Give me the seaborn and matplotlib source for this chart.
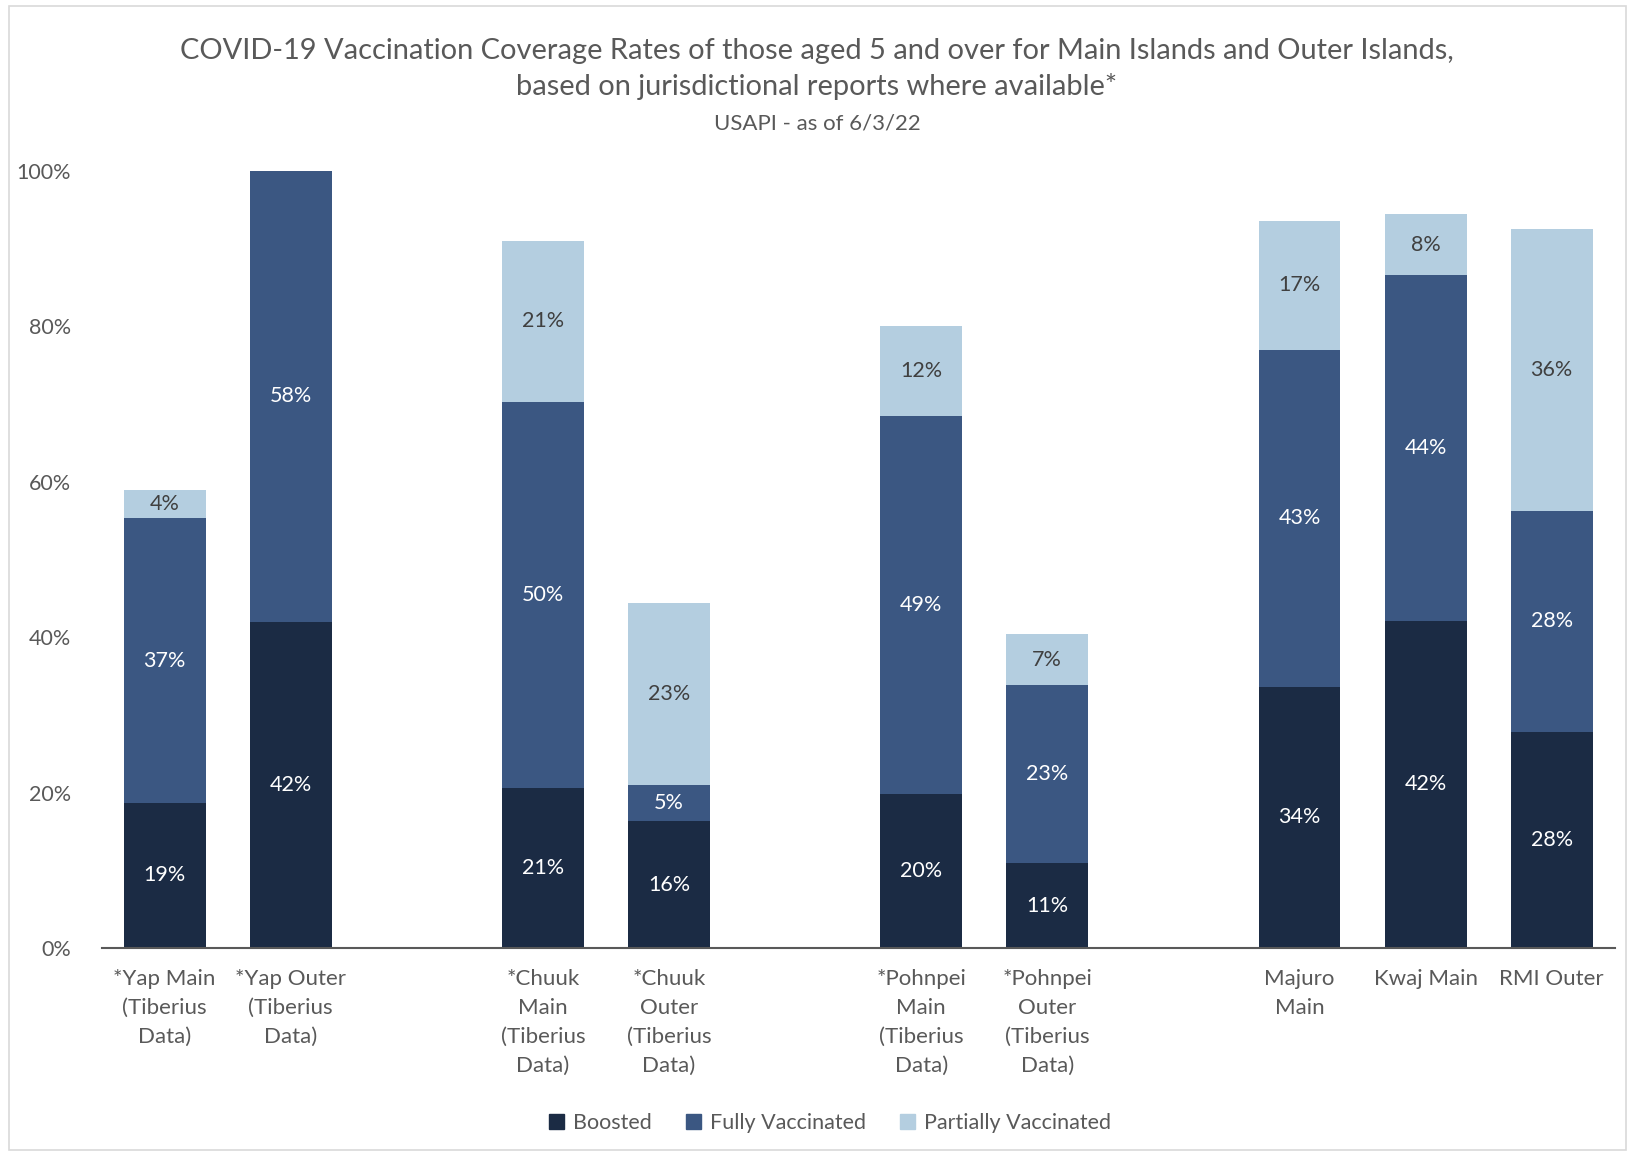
import matplotlib
matplotlib.use("Agg")
import matplotlib.pyplot as plt
import seaborn as sns
import pandas as pd
import numpy as np
from matplotlib.patches import Rectangle

# ---- data ----
categories = ["Yap Main", "Yap Outer", "gap1", "Chuuk Main", "Chuuk Outer", "gap2",
              "Pohnpei Main", "Pohnpei Outer", "gap3", "Majuro Main", "Kwaj Main", "RMI Outer"]
tick_labels = ["*Yap Main\n(Tiberius\nData)", "*Yap Outer\n(Tiberius\nData)", "",
               "*Chuuk\nMain\n(Tiberius\nData)", "*Chuuk\nOuter\n(Tiberius\nData)", "",
               "*Pohnpei\nMain\n(Tiberius\nData)", "*Pohnpei\nOuter\n(Tiberius\nData)", "",
               "Majuro\nMain", "Kwaj Main", "RMI Outer"]
bar_cats = ["Yap Main", "Yap Outer", "Chuuk Main", "Chuuk Outer", "Pohnpei Main",
            "Pohnpei Outer", "Majuro Main", "Kwaj Main", "RMI Outer"]
boosted = [18.7, 42.0, 20.6, 16.3, 19.8, 10.9, 33.6, 42.1, 27.8]
fully = [36.6, 58.0, 49.7, 4.7, 48.6, 22.9, 43.4, 44.5, 28.5]
partial = [3.6, 0.0, 20.7, 23.4, 11.6, 6.6, 16.6, 7.8, 36.2]
series_names = ["Boosted", "Fully Vaccinated", "Partially Vaccinated"]
colors = ["#1b2b44", "#3b5782", "#b4cee0"]

sns.set_theme(style="white")
plt.rcParams["font.family"] = ["Lato", "DejaVu Sans"]
text_gray = "#595959"

df = pd.DataFrame({"cat": bar_cats, "b": boosted, "f": fully, "p": partial})
df["bf"] = df["b"] + df["f"]
df["bfp"] = df["bf"] + df["p"]

fig = plt.figure(figsize=(16.34, 11.55), dpi=100)
ax = fig.add_axes([0.0622, 0.1792, 0.926, 0.6728])

width = 0.65
for col, c in zip(["bfp", "bf", "b"], colors[::-1]):
    sns.barplot(data=df, x="cat", y=col, order=categories, color=c,
                width=width, saturation=1, ax=ax, linewidth=0)

pos = {c: i for i, c in enumerate(categories)}
for _, r in df.iterrows():
    x = pos[r["cat"]]
    segs = [(0, r["b"], "white"), (r["b"], r["f"], "white"), (r["bf"], r["p"], "#404040")]
    for bottom, h, tc in segs:
        if h > 0.5:
            ax.text(x, bottom + h / 2, f"{round(h):.0f}%", ha="center", va="center",
                    color=tc, fontsize=15.5)

ax.set_ylim(0, 100)
ax.set_xlim(-0.5, len(categories) - 0.5)
ax.set_yticks([0, 20, 40, 60, 80, 100])
ax.set_yticklabels([f"{v}%" for v in [0, 20, 40, 60, 80, 100]], fontsize=15.5, color=text_gray)
ax.set_xticks(range(len(categories)))
ax.set_xticklabels(tick_labels, fontsize=16, color=text_gray, linespacing=1.57, va="top")
ax.tick_params(axis="y", length=0, pad=22)
ax.tick_params(axis="x", length=0, pad=15)
ax.set_xlabel("")
ax.set_ylabel("")
for s in ["top", "right", "left"]:
    ax.spines[s].set_visible(False)
ax.spines["bottom"].set_color("#595959")
ax.spines["bottom"].set_linewidth(1.5)

fig.text(0.5, 0.956, "COVID-19 Vaccination Coverage Rates of those aged 5 and over for Main Islands and Outer Islands,",
         ha="center", va="center", fontsize=20.9, color=text_gray)
fig.text(0.5, 0.925, "based on jurisdictional reports where available*",
         ha="center", va="center", fontsize=20.9, color=text_gray)
fig.text(0.5, 0.893, "USAPI - as of 6/3/22", ha="center", va="center", fontsize=16, color=text_gray)

handles = [Rectangle((0, 0), 1, 1, color=c) for c in colors]
fig.legend(handles, series_names, loc="center", bbox_to_anchor=(0.508, 0.028), ncol=3,
           frameon=False, fontsize=15.5, labelcolor=text_gray, handlelength=0.7,
           handleheight=0.7, columnspacing=1.6, handletextpad=0.4)

fig.patches.append(Rectangle((0.0055, 0.004), 0.9895, 0.9905, transform=fig.transFigure,
                             fill=False, edgecolor="#d9d9d9", linewidth=1.2))

fig.savefig("out.png", dpi=100, facecolor="white")
